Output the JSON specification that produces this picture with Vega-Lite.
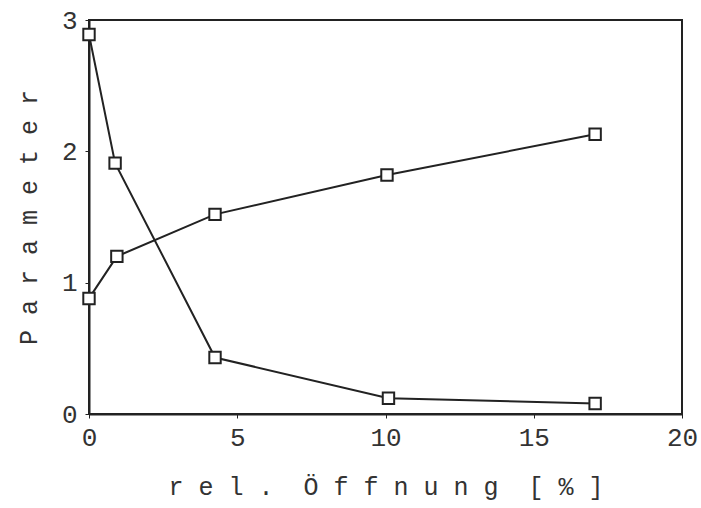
{
  "$schema": "https://vega.github.io/schema/vega-lite/v6.json",
  "width": 593,
  "height": 394,
  "autosize": {"type": "none"},
  "padding": {"left": 89, "top": 20, "right": 19, "bottom": 94},
  "background": "white",
  "config": {
    "view": {"stroke": "#222", "strokeWidth": 2},
    "axis": {
      "domainColor": "#222",
      "domainWidth": 2,
      "tickColor": "#222",
      "tickSize": 4,
      "grid": false,
      "labelFont": "Liberation Mono",
      "labelFontSize": 26,
      "labelColor": "#333",
      "titleFont": "Liberation Mono",
      "titleFontSize": 25,
      "titleFontWeight": "normal",
      "titleColor": "#333"
    }
  },
  "data": {
    "values": [
      {"series": "A", "x": 0, "y": 2.89},
      {"series": "A", "x": 0.88, "y": 1.91},
      {"series": "A", "x": 4.25, "y": 0.43},
      {"series": "A", "x": 10.1, "y": 0.12},
      {"series": "A", "x": 17.07, "y": 0.08},
      {"series": "B", "x": 0, "y": 0.88},
      {"series": "B", "x": 0.94, "y": 1.2},
      {"series": "B", "x": 4.25, "y": 1.52},
      {"series": "B", "x": 10.05, "y": 1.82},
      {"series": "B", "x": 17.07, "y": 2.13}
    ]
  },
  "encoding": {
    "x": {
      "field": "x",
      "type": "quantitative",
      "scale": {"domain": [0, 20], "nice": false},
      "axis": {"values": [0, 5, 10, 15, 20], "labelPadding": 6, "title": "r e l . \u00a0Ö f f n u n g \u00a0[ % ]", "titlePadding": 24, "labelFlush": false}
    },
    "y": {
      "field": "y",
      "type": "quantitative",
      "scale": {"domain": [0, 3], "nice": false},
      "axis": {"values": [0, 1, 2, 3], "labelPadding": 8, "title": "P a r a m e t e r", "titlePadding": 20, "labelFlush": false}
    }
  },
  "layer": [
    {
      "mark": {"type": "line", "color": "#222", "strokeWidth": 2},
      "encoding": {"detail": {"field": "series"}}
    },
    {
      "mark": {"type": "point", "shape": "square", "size": 130, "filled": false, "fill": "white", "fillOpacity": 1, "stroke": "#222", "strokeWidth": 2, "opacity": 1},
      "encoding": {"detail": {"field": "series"}}
    }
  ]
}
